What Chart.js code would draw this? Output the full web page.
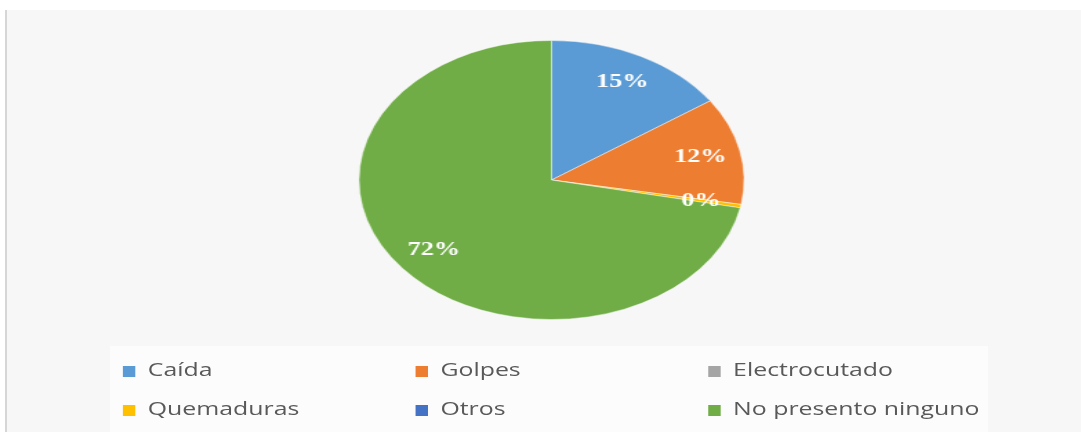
<!DOCTYPE html>
<html>
<head>
<meta charset="utf-8">
<script src="https://cdn.jsdelivr.net/npm/chart.js@4.4.1/dist/chart.umd.min.js"></script>
<style>
  html, body { margin: 0; padding: 0; background: #ffffff; }
  body { width: 1081px; height: 432px; position: relative; overflow: hidden; }
  #panel {
    position: absolute; left: 5px; top: 10px; width: 1076px; height: 422px;
    background: #f7f7f7; border-left: 2px solid #d6d6d6; box-sizing: border-box;
  }
  #legendBg {
    position: absolute; left: 110px; top: 346px; width: 878px; height: 86px;
    background: #fcfcfc;
  }
  /* the whole chart is drawn narrow and then widened */
  #stage {
    position: absolute; left: 0; top: 0; width: 783px; height: 432px;
    transform: scaleX(1.3806); transform-origin: 0 0;
  }
  #pie { position: absolute; left: 0; top: 0; }
  #legend { position: absolute; left: 0; top: 0; width: 783px; height: 432px; }
  .item {
    position: absolute; height: 24px; line-height: 24px; white-space: nowrap;
    font-family: "Open Sans", sans-serif; font-size: 18px; color: #595959;
  }
  .item i {
    display: inline-block; width: 9px; height: 11px; margin-right: 9px;
    vertical-align: -1px;
  }
</style>
</head>
<body>
<div id="panel"></div>
<div id="legendBg"></div>
<div id="stage">
  <canvas id="pie" width="783" height="432"></canvas>
  <div id="legend"></div>
</div>
<script>
const categories = ['Caída', 'Golpes', 'Electrocutado', 'Quemaduras', 'Otros', 'No presento ninguno'];
const shares = [15.4, 12.4, 0, 0.4, 0, 71.8];
const sliceColors = ['#5b9bd5', '#ed7d31', '#a5a5a5', '#ffc000', '#4472c4', '#70ad47'];

// percentage text inside each non-empty slice
const sliceLabels = {
  id: 'sliceLabels',
  afterDatasetsDraw(chart) {
    const ctx = chart.ctx;
    const meta = chart.getDatasetMeta(0);
    const values = chart.data.datasets[0].data;
    ctx.save();
    ctx.font = 'bold 19px "Liberation Serif", serif';
    ctx.fillStyle = '#ffffff';
    ctx.textAlign = 'center';
    ctx.textBaseline = 'middle';
    meta.data.forEach(function (arc, i) {
      if (values[i] === 0) return;
      const p = arc.getProps(['x', 'y', 'startAngle', 'endAngle', 'outerRadius'], true);
      const mid = (p.startAngle + p.endAngle) / 2;
      const r = p.outerRadius * 0.79;
      ctx.fillText(Math.round(values[i]) + '%', p.x + Math.cos(mid) * r, p.y + Math.sin(mid) * r);
    });
    ctx.restore();
  }
};

const pieChart = new Chart(document.getElementById('pie').getContext('2d'), {
  type: 'pie',
  data: {
    labels: categories,
    datasets: [{
      data: shares,
      backgroundColor: sliceColors,
      borderColor: 'rgba(255,255,255,0.45)',
      borderWidth: 1
    }]
  },
  options: {
    responsive: false,
    animation: false,
    events: [],
    layout: { padding: { left: 16, right: 0, top: 40, bottom: 112 } },
    plugins: {
      legend: { display: false },
      tooltip: { enabled: false }
    }
  },
  plugins: [sliceLabels]
});

// legend in a 3 column grid, built from the chart's own legend items
const legendBox = document.getElementById('legend');
const items = Chart.overrides.pie.plugins.legend.labels.generateLabels(pieChart);
const colLeft = [89, 301, 513];
const rowMid = [369, 408];
items.forEach(function (it, i) {
  const el = document.createElement('div');
  el.className = 'item';
  el.style.left = colLeft[i % 3] + 'px';
  el.style.top = (rowMid[Math.floor(i / 3)] - 12) + 'px';
  const sw = document.createElement('i');
  sw.style.background = it.fillStyle;
  el.appendChild(sw);
  el.appendChild(document.createTextNode(it.text));
  legendBox.appendChild(el);
});
</script>
</body>
</html>
